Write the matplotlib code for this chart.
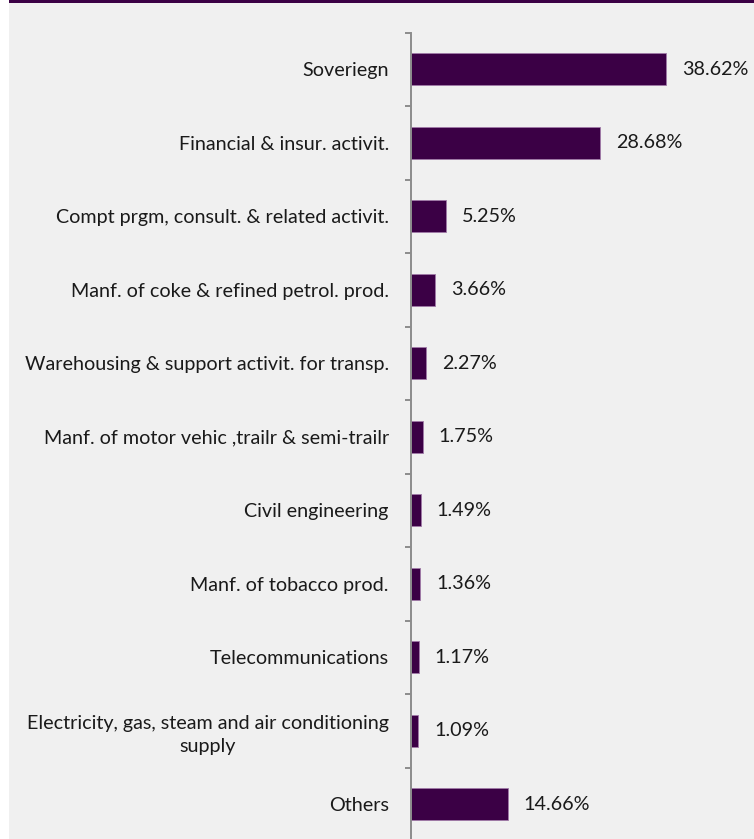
import matplotlib
matplotlib.use("Agg")
import matplotlib.pyplot as plt
from matplotlib.patches import Rectangle

categories = [
    "Soveriegn",
    "Financial & insur. activit.",
    "Compt prgm, consult. & related activit.",
    "Manf. of coke & refined petrol. prod.",
    "Warehousing & support activit. for transp.",
    "Manf. of motor vehic ,trailr & semi-trailr",
    "Civil engineering",
    "Manf. of tobacco prod.",
    "Telecommunications",
    "Electricity, gas, steam and air conditioning\nsupply",
    "Others",
]
values = [38.62, 28.68, 5.25, 3.66, 2.27, 1.75, 1.49, 1.36, 1.17, 1.09, 14.66]

BAR = "#3b0045"
EDGE = "#a07aa8"
BG = "#f0f0f0"
FONT = "Lato"
FS = 14.2

W, H = 754, 839
fig = plt.figure(figsize=(W / 100, H / 100), dpi=100, facecolor="white")

# light panel and the thin header strip
fig.patches.append(Rectangle((9 / W, 0), 1 - 9 / W, 1 - 3 / H, transform=fig.transFigure,
                             facecolor=BG, edgecolor="none", zorder=-10))
fig.patches.append(Rectangle((9 / W, 1 - 3 / H), 1 - 9 / W, 3 / H, transform=fig.transFigure,
                             facecolor=BAR, edgecolor="none", zorder=-10))

left_px, top_px, bottom_px = 411, 32.5, 841
ax = fig.add_axes([left_px / W, 1 - bottom_px / H, (W - left_px) / W, (bottom_px - top_px) / H])
ax.set_facecolor("none")

n = len(categories)
ypos = list(range(n))
ax.barh(ypos, values, height=0.43, color=BAR, edgecolor=EDGE, linewidth=0.6)
ax.set_ylim(n - 0.5, -0.5)
ax.set_xlim(0, (W - left_px) / 6.6)

for y, v in zip(ypos, values):
    ax.annotate(f"{v:.2f}%", xy=(v, y), xytext=(11.5, 0), textcoords="offset points",
                va="center", ha="left", fontsize=FS, family=FONT, color="#1a1a1a")

ax.set_yticks(ypos)
ax.set_yticklabels(categories, fontsize=FS, family=FONT, color="#1a1a1a", ha="right",
                   multialignment="center", linespacing=1.4)
ax.set_yticks([i - 0.5 for i in range(n + 1)], minor=True)
ax.tick_params(axis="y", which="major", length=0, pad=16)
ax.tick_params(axis="y", which="minor", length=4.3, width=1.4, color="#8c8c8c", direction="out")
ax.set_xticks([])

for s in ["top", "right", "bottom"]:
    ax.spines[s].set_visible(False)
ax.spines["left"].set_color("#8c8c8c")
ax.spines["left"].set_linewidth(1.4)

fig.savefig("out.png", dpi=100, facecolor=fig.get_facecolor())
